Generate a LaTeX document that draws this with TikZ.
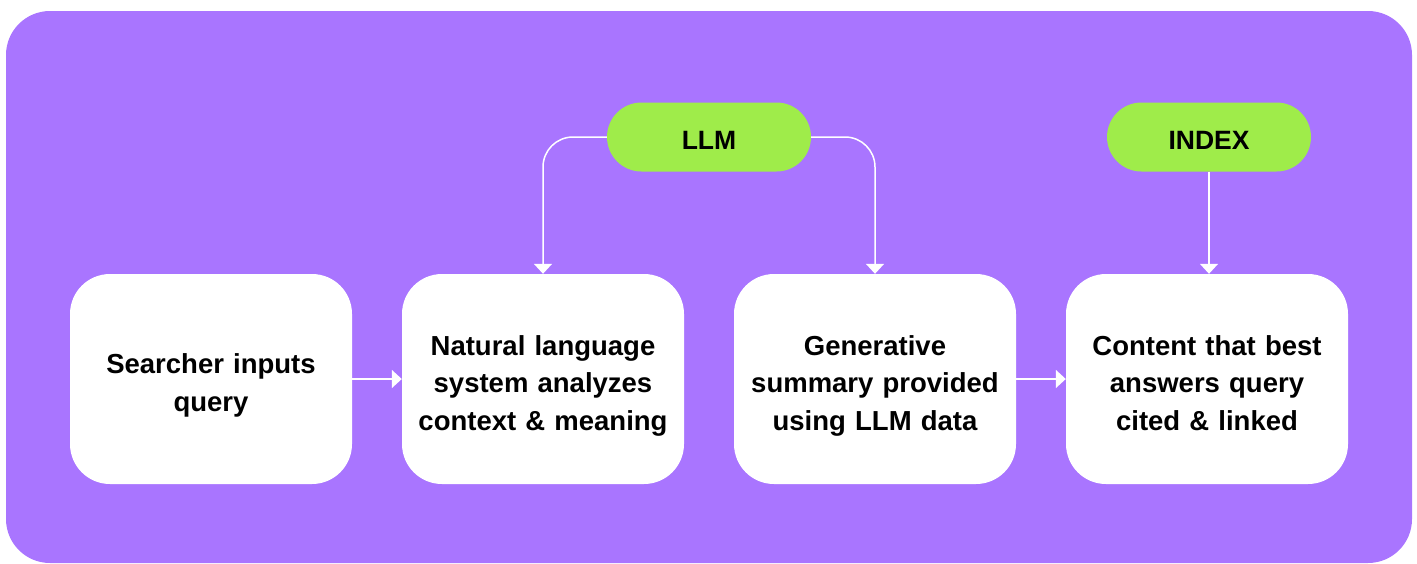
\documentclass[tikz,border=0pt]{standalone}
\usepackage{fontspec}
\setmainfont{Liberation Sans}
\usetikzlibrary{arrows.meta}
\definecolor{bgpurple}{RGB}{169,117,255}
\definecolor{pillgreen}{RGB}{159,236,74}
\tikzset{
  stepbox/.style={fill=white, rounded corners=40pt, minimum width=282pt, minimum height=210pt,
    text width=270pt, align=center, inner sep=0pt,
    execute at begin node={\rule{0pt}{35pt}},
    execute at end node={\rule[-8pt]{0pt}{0pt}},
    font=\fontsize{27.5}{37.5}\selectfont\bfseries},
  pill/.style={fill=pillgreen, rounded corners=34.5pt, minimum width=204pt, minimum height=69pt,
    inner sep=0pt, text height=24pt, text depth=0pt, font=\fontsize{26.5}{30}\selectfont\bfseries},
  conn/.style={white, line width=1.5pt, -{Triangle[width=18pt,length=10pt]}}
}
\begin{document}
\begin{tikzpicture}[x=1pt,y=-1pt]
\useasboundingbox (0,0) rectangle (1417,563);
\fill[bgpurple, rounded corners=44pt] (6,11) rectangle (1412,563);
\node[stepbox] (b1) at (211,379) {Searcher inputs\\query};
\node[stepbox] (b2) at (543,379) {Natural language\\system analyzes\\context \& meaning};
\node[stepbox] (b3) at (875,379) {Generative\\summary provided\\using LLM data};
\node[stepbox] (b4) at (1207,379) {Content that best\\answers query\\cited \& linked};
\node[pill] (llm) at (709,137) {LLM};
\node[pill] (idx) at (1209,137) {INDEX};
\draw[conn] (b1.east) -- (b2.west);
\draw[conn] (b3.east) -- (b4.west);
\draw[conn, rounded corners=30pt] (llm.west) -| (b2.north);
\draw[conn, rounded corners=30pt] (llm.east) -| (b3.north);
\draw[conn] (idx.south) -- (idx.south |- b4.north);
\end{tikzpicture}
\end{document}
